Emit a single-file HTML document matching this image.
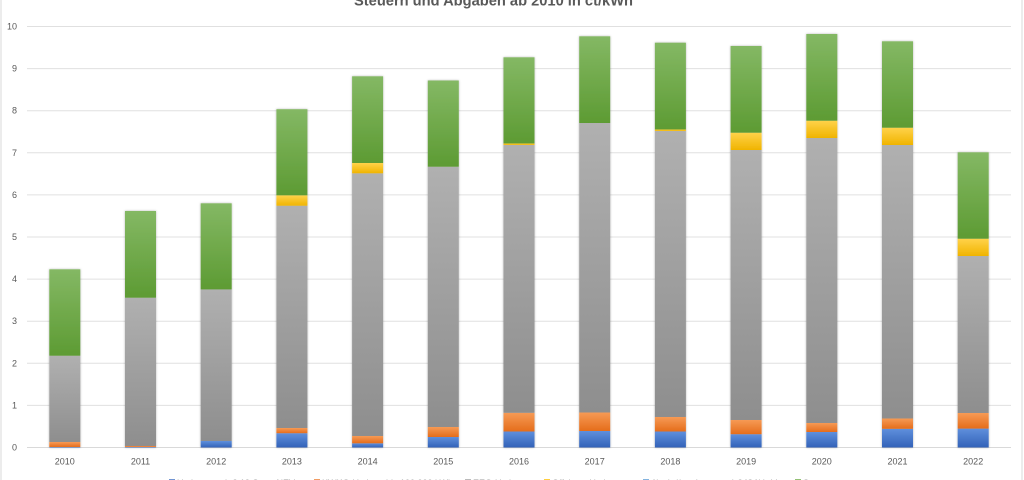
<!DOCTYPE html>
<html><head><meta charset="utf-8"><style>
html,body{margin:0;padding:0;background:#fff;}
svg{display:block;font-family:"Liberation Sans",sans-serif;}
</style></head><body>
<svg width="1024" height="480" viewBox="0 0 1024 480" xmlns="http://www.w3.org/2000/svg">
<defs>
<linearGradient id="gB" x1="0" y1="0" x2="0" y2="1"><stop offset="0" stop-color="#5f8fdc"/><stop offset="1" stop-color="#3262b8"/></linearGradient>
<linearGradient id="gO" x1="0" y1="0" x2="0" y2="1"><stop offset="0" stop-color="#f69a55"/><stop offset="1" stop-color="#e56d1b"/></linearGradient>
<linearGradient id="gG" x1="0" y1="0" x2="0" y2="1"><stop offset="0" stop-color="#b0b0b0"/><stop offset="1" stop-color="#8e8e8e"/></linearGradient>
<linearGradient id="gY" x1="0" y1="0" x2="0" y2="1"><stop offset="0" stop-color="#ffd24a"/><stop offset="1" stop-color="#f0b400"/></linearGradient>
<linearGradient id="gN" x1="0" y1="0" x2="0" y2="1"><stop offset="0" stop-color="#84b864"/><stop offset="1" stop-color="#5d9b33"/></linearGradient>
<filter id="sh" x="-20%" y="-5%" width="140%" height="110%"><feDropShadow dx="0" dy="0" stdDeviation="1" flood-color="#000" flood-opacity="0.3"/></filter>
</defs>
<rect x="1" y="-2" width="1021" height="490" fill="#fff" stroke="#d9d9d9" stroke-width="1"/>
<text x="354" y="5.5" textLength="279" lengthAdjust="spacingAndGlyphs" font-size="14.5" font-weight="bold" fill="#595959">Steuern und Abgaben ab 2010 in ct/kWh</text>
<g stroke="#e0e0e0" stroke-width="1">
<line x1="27" y1="26.5" x2="1011" y2="26.5"/>
<line x1="27" y1="68.6" x2="1011" y2="68.6"/>
<line x1="27" y1="110.7" x2="1011" y2="110.7"/>
<line x1="27" y1="152.8" x2="1011" y2="152.8"/>
<line x1="27" y1="194.9" x2="1011" y2="194.9"/>
<line x1="27" y1="237" x2="1011" y2="237"/>
<line x1="27" y1="279.1" x2="1011" y2="279.1"/>
<line x1="27" y1="321.2" x2="1011" y2="321.2"/>
<line x1="27" y1="363.3" x2="1011" y2="363.3"/>
<line x1="27" y1="405.4" x2="1011" y2="405.4"/>
<line x1="27" y1="447.5" x2="1011" y2="447.5" stroke="#d9d9d9"/>
</g>
<g font-size="9" fill="#595959" text-anchor="end">
<text x="17" y="29.5">10</text>
<text x="17" y="71.6">9</text>
<text x="17" y="113.7">8</text>
<text x="17" y="155.8">7</text>
<text x="17" y="197.9">6</text>
<text x="17" y="240">5</text>
<text x="17" y="282.1">4</text>
<text x="17" y="324.2">3</text>
<text x="17" y="366.3">2</text>
<text x="17" y="408.4">1</text>
<text x="17" y="450.5">0</text>
</g>
<g id="bars"></g>
<g font-size="9" fill="#595959" text-anchor="middle" id="xl"></g>
<g font-size="9" fill="#7a7a7a" opacity="0.75">
<rect x="169" y="479" width="6" height="6" fill="#4472c4"/><text x="177" y="486">Umlage nach § 19 StromNEV</text>
<rect x="314" y="479" width="6" height="6" fill="#ed7d31"/><text x="322" y="486">KWKG-Umlage bis 100.000 kWh</text>
<rect x="465" y="479" width="6" height="6" fill="#a5a5a5"/><text x="473" y="486">EEG-Umlage</text>
<rect x="544" y="479" width="6" height="6" fill="#ffc000"/><text x="552" y="486">Offshore-Umlage</text>
<rect x="643" y="479" width="6" height="6" fill="#5b9bd5"/><text x="651" y="486" textLength="126">Abschaltbare Lasten nach § 18 AbLaV</text>
<rect x="795" y="479" width="6" height="6" fill="#70ad47"/><text x="803" y="486">Stromsteuer</text>
</g>
<script>
(function(){
var d=[
[447,442,355.7,355.7,269.3],
[447,446,297.7,297.7,211],
[441,441,289.4,289.4,203.3],
[433.2,428,205.7,195.3,109.2],
[443.3,436,173.3,163,76.3],
[437,427,166.7,166.7,80.5],
[431.5,412.8,145,143.5,57.3],
[431,412.5,123,123,36.3],
[431.5,417,131,129.5,42.7],
[434.2,420,150,132.7,46],
[432,423,138,120.7,34],
[428.8,418.5,145,127.7,41.3],
[428.6,413,256,238.7,152.3]];
var fills=["url(#gB)","url(#gO)","url(#gG)","url(#gY)","url(#gN)"];
var ns="http://www.w3.org/2000/svg";
var g=document.getElementById("bars"),xl=document.getElementById("xl");
for(var i=0;i<13;i++){
 var x=49.3+i*75.7, w=31, base=447.5;
 var sg=document.createElementNS(ns,"g");sg.setAttribute("filter","url(#sh)");
 var prev=base;
 for(var k=0;k<5;k++){
  var top=d[i][k];
  if(prev-top>0.3){
   var r=document.createElementNS(ns,"rect");
   r.setAttribute("x",x);r.setAttribute("y",top);r.setAttribute("width",w);r.setAttribute("height",prev-top);
   r.setAttribute("fill",fills[k]);sg.appendChild(r);
  }
  prev=top;
 }
 g.appendChild(sg);
 var t=document.createElementNS(ns,"text");
 t.setAttribute("x",x+w/2);t.setAttribute("y",464.5);t.textContent=String(2010+i);xl.appendChild(t);
}
})();
</script>
</svg>
</body></html>
